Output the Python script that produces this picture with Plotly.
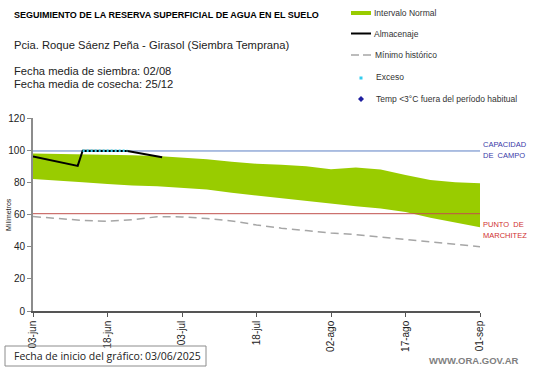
import plotly.graph_objects as go

# ---- data ----
band_dates = ["2025-06-03", "2025-06-08", "2025-06-13", "2025-06-18", "2025-06-23", "2025-06-28",
              "2025-07-03", "2025-07-08", "2025-07-13", "2025-07-18", "2025-07-23", "2025-07-28",
              "2025-08-02", "2025-08-07", "2025-08-12", "2025-08-17", "2025-08-22", "2025-08-27",
              "2025-09-01"]
band_upper = [98, 97.8, 97.5, 97.3, 96.8, 96.3, 95.5, 94.3, 92.8, 91.6, 91, 90, 88.2, 89.2, 88,
              84.5, 81.5, 80, 79.5]
band_lower = [82, 81.2, 80, 79, 78, 77.5, 76.5, 75.5, 73.5, 71.8, 70.2, 68.5, 67, 65.2, 63.8,
              61.5, 58, 55, 52]
min_hist = [58.7, 57.5, 56.3, 55.8, 56.8, 58.6, 58.5, 57.5, 56, 53.5, 51.5, 50, 48.5, 47.5, 46,
            44.5, 43, 41.5, 40]

alm_dates = ["2025-06-03", "2025-06-12", "2025-06-13", "2025-06-22", "2025-06-29"]
alm_values = [96, 90.2, 99.7, 99.5, 95.6]

exc_dates = ["2025-06-13", "2025-06-22"]
exc_values = [99.7, 99.6]

cc_value = 99.5
pm_value = 60.5
x_start, x_end = "2025-06-03", "2025-09-01"

tick_dates = ["2025-06-03", "2025-06-18", "2025-07-03", "2025-07-18", "2025-08-02", "2025-08-17", "2025-09-01"]
tick_labels = ["03-jun", "18-jun", "03-jul", "18-jul", "02-ago", "17-ago", "01-sep"]
y_ticks = [0, 20, 40, 60, 80, 100, 120]

FONT = "Liberation Sans, Arial, sans-serif"

W, H = 541, 368
ML, MR, MT, MB = 33, 61, 118, 57
PW, PH = W - ML - MR, H - MT - MB


def px(x):
    return (x - ML) / PW


def py(y):
    return (H - MB - y) / PH


fig = go.Figure()
fig.add_trace(go.Scatter(x=band_dates, y=band_lower, mode="lines", line=dict(width=0, color="#99cc00"),
                         hoverinfo="skip", showlegend=False))
fig.add_trace(go.Scatter(x=band_dates, y=band_upper, mode="lines", fill="tonexty", fillcolor="#99cc00",
                         line=dict(width=0, color="#99cc00"), name="Intervalo Normal", showlegend=False))
fig.add_trace(go.Scatter(x=[x_start, x_end], y=[cc_value, cc_value], mode="lines",
                         line=dict(color="#5b7fc4", width=1), showlegend=False))
fig.add_trace(go.Scatter(x=[x_start, x_end], y=[pm_value, pm_value], mode="lines",
                         line=dict(color="#c0504d", width=1), showlegend=False))
fig.add_trace(go.Scatter(x=band_dates, y=min_hist, mode="lines",
                         line=dict(color="#a6a6a6", width=1.5, dash="8px,5px"), showlegend=False))
fig.add_trace(go.Scatter(x=alm_dates, y=alm_values, mode="lines",
                         line=dict(color="black", width=2), showlegend=False))
fig.add_trace(go.Scatter(x=exc_dates, y=exc_values, mode="lines",
                         line=dict(color="#33ccee", width=2.5, dash="2px,2px"), showlegend=False))

shapes = []
annotations = []

# manual legend
lx0, lx1 = 351, 371
shapes.append(dict(type="rect", xref="paper", yref="paper", x0=px(lx0), x1=px(lx1), y0=py(15), y1=py(11),
                   fillcolor="#99cc00", line=dict(width=0)))
shapes.append(dict(type="line", xref="paper", yref="paper", x0=px(lx0), x1=px(lx1), y0=py(33.5), y1=py(33.5),
                   line=dict(color="black", width=2)))
shapes.append(dict(type="line", xref="paper", yref="paper", x0=px(lx0), x1=px(lx1), y0=py(55), y1=py(55),
                   line=dict(color="#a6a6a6", width=1.5, dash="8px,4px")))
shapes.append(dict(type="rect", xref="paper", yref="paper", x0=px(359.5), x1=px(362.5), y0=py(79.5), y1=py(76.5),
                   fillcolor="#33ccee", line=dict(width=0)))
dcx, dcy = 361, 99
shapes.append(dict(type="path", xref="paper", yref="paper",
                   path=f"M {px(dcx)} {py(dcy - 3)} L {px(dcx + 3)} {py(dcy)} L {px(dcx)} {py(dcy + 3)} "
                        f"L {px(dcx - 3)} {py(dcy)} Z",
                   fillcolor="#1f1fa0", line=dict(width=0)))
legend_items = [("Intervalo Normal", 13, 372), ("Almacenaje", 34, 372), ("Mínimo histórico", 55, 373),
                ("Exceso", 77.5, 374), ("Temp <3°C fuera del período habitual", 99, 374)]
for txt, yy, xx in legend_items:
    annotations.append(dict(text=txt, x=px(xx), y=py(yy), font=dict(family=FONT, size=8.5, color="#333")))

# titles / texts
annotations += [
    dict(text="<b>SEGUIMIENTO DE LA RESERVA SUPERFICIAL DE AGUA EN EL SUELO</b>", x=px(12), y=py(15),
         font=dict(family=FONT, size=9, color="black")),
    dict(text="Pcia. Roque Sáenz Peña - Girasol (Siembra Temprana)", x=px(12), y=py(45),
         font=dict(family=FONT, size=11.2, color="#222")),
    dict(text="Fecha media de siembra: 02/08", x=px(12), y=py(71), font=dict(family=FONT, size=11.2, color="#222")),
    dict(text="Fecha media de cosecha: 25/12", x=px(12), y=py(84), font=dict(family=FONT, size=11.2, color="#222")),
    dict(text="CAPACIDAD", x=px(481), y=py(144), font=dict(family=FONT, size=7.5, color="#3a3aa8")),
    dict(text="DE  CAMPO", x=px(481), y=py(155), font=dict(family=FONT, size=7.5, color="#3a3aa8")),
    dict(text="PUNTO  DE", x=px(481), y=py(224), font=dict(family=FONT, size=7.5, color="#d03030")),
    dict(text="MARCHITEZ", x=px(481), y=py(235), font=dict(family=FONT, size=7.5, color="#d03030")),
    dict(text="Fecha de inicio del gráfico:", x=px(12), y=py(356), font=dict(family="Open Sans, sans-serif", size=10.5, color="#222")),
    dict(text="03/06/2025", x=px(143), y=py(356), font=dict(family="Open Sans, sans-serif", size=10.5, color="#222")),
    dict(text="<b>WWW.ORA.GOV.AR</b>", x=px(427), y=py(360), font=dict(family=FONT, size=9.5, color="#7f7f7f")),
    dict(text="Milímetros", x=px(8), y=py(215), textangle=-90, xanchor="center",
         font=dict(family=FONT, size=7, color="#222")),
]
for a in annotations:
    a.setdefault("xref", "paper")
    a.setdefault("yref", "paper")
    a.setdefault("xanchor", "left")
    a.setdefault("yanchor", "middle")
    a["showarrow"] = False

shapes.append(dict(type="rect", xref="paper", yref="paper", x0=px(5), x1=px(206), y0=py(366), y1=py(346),
                   line=dict(color="#8c8c8c", width=1), fillcolor="rgba(0,0,0,0)"))

fig.update_layout(
    width=W, height=H, margin=dict(l=ML, r=MR, t=MT, b=MB, autoexpand=False),
    paper_bgcolor="white", plot_bgcolor="white",
    shapes=shapes, annotations=annotations, showlegend=False,
    xaxis=dict(type="date", range=[x_start, x_end], tickvals=tick_dates, ticktext=tick_labels, automargin=False,
               tickangle=-90, ticks="outside", ticklen=4, tickcolor="#555", showgrid=False, zeroline=False,
               showline=True, linecolor="#555", linewidth=1.5, tickfont=dict(family=FONT, size=10, color="#222")),
    yaxis=dict(range=[0, 120], tickvals=y_ticks, ticks="outside", ticklen=4, tickcolor="#888", automargin=False,
               showgrid=False, zeroline=False, showline=True, linecolor="#8c8c8c", linewidth=2,
               tickfont=dict(family=FONT, size=10, color="#222")),
)

fig.write_html("out.html", config={"displayModeBar": False},
               post_script="document.body.style.margin='0';document.body.style.overflow='hidden';")
